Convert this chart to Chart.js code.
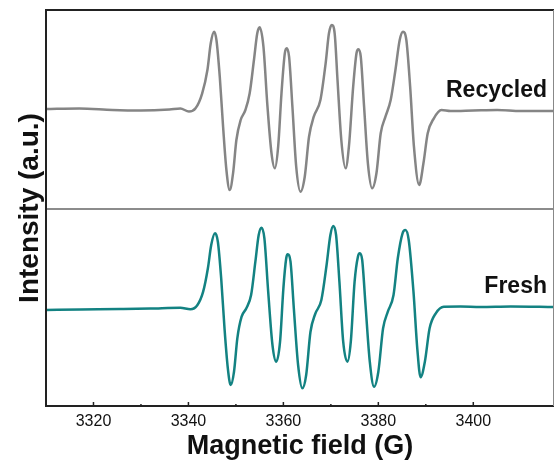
<!DOCTYPE html>
<html>
<head>
<meta charset="utf-8">
<script src="https://cdn.jsdelivr.net/npm/chart.js@4.4.1/dist/chart.umd.min.js"></script>
<style>
  html, body { margin: 0; padding: 0; background: #fff; overflow: hidden; }
</style>
</head>
<body>
<canvas id="eprChart" width="555" height="466"></canvas>
<script>
// field (G) and intensity (a.u.)
const fieldRecycled = [3310, 3317, 3324, 3330, 3336, 3338.3, 3340.1, 3341.5,
  3342.9, 3344.0, 3344.7, 3345.4, 3345.9, 3346.6, 3347.3, 3348.0, 3348.7,
  3349.4, 3350.1, 3351.0, 3352.0, 3352.9, 3353.8, 3354.5, 3355.0,
  3355.8, 3356.6, 3357.5, 3358.2, 3358.9, 3359.6, 3360.3, 3360.7,
  3361.2, 3361.9, 3362.7, 3363.6, 3364.5, 3365.4, 3366.4, 3367.8,
  3368.9, 3369.6, 3370.2, 3370.8, 3371.4, 3372.2, 3373.1, 3373.8,
  3374.7, 3375.4, 3375.8, 3376.3, 3377.0, 3377.8, 3378.7, 3379.6,
  3380.5, 3381.5, 3382.6, 3383.6, 3384.5, 3385.2, 3385.9, 3386.7,
  3387.5, 3388.6, 3389.5, 3390.4, 3391.7, 3393.3, 3395.2, 3400,
  3405, 3410, 3417];
const intensityRecycled = [0, 0.5, -1, -1.5, -0.5, 0.5, -2.5, 0.7,
  15.7, 39, 65.7, 77.3, 69, 32.3, -17.7, -61, -81,
  -64.3, -31, -11, -1, 15.7, 49, 75.7, 81.7,
  62.3, 5.7, -44.3, -59.3, -37.7, 15.7, 55.7, 60.7,
  52.3, 2.3, -57.7, -82.7, -67.7, -27.7, -7.7, 9,
  45.7, 75.7, 84, 75.7, 29, -31, -59.3, -37.7,
  22.3, 55.7, 59.7, 52.3, 2.3, -54.3, -79.3, -64.3,
  -24.3, -7.7, 9, 39, 69, 77.3, 69, 22.3,
  -37.7, -76, -54.3, -24.3, -9.3, -1, -2, -1.5,
  -1, -2, -2];

const fieldFresh = [3310, 3317.3, 3325.7, 3332, 3338.3, 3340.4, 3341.9, 3343.1,
  3344.1, 3344.8, 3345.6, 3346.2, 3346.9, 3347.6, 3348.3, 3348.9,
  3349.6, 3350.3, 3351.2, 3352.2, 3353.2, 3354.1, 3354.8, 3355.4,
  3356.0, 3356.8, 3357.7, 3358.5, 3359.3, 3360.0, 3360.6, 3360.9,
  3361.5, 3362.2, 3363.1, 3364.0, 3364.8, 3365.7, 3366.7, 3368.0,
  3369.1, 3369.9, 3370.5, 3371.1, 3371.8, 3372.6, 3373.5, 3374.2,
  3375.0, 3375.7, 3376.1, 3376.6, 3377.3, 3378.2, 3379.1, 3380.0,
  3381.0, 3382.0, 3383.2, 3384.1, 3385.1, 3385.7, 3386.4, 3387.4,
  3388.2, 3388.9, 3389.8, 3390.8, 3392.1, 3393.8, 3397.3, 3401.5,
  3407.9, 3417];
const intensityFresh = [-2, -1.5, -1, -0.5, 0.3, -1.3, 3, 16.3,
  39.7, 63, 74.7, 66.3, 29.7, -20.3, -60.3, -77,
  -63.7, -30.3, -8.7, -0.3, 13, 46.3, 73, 80.3,
  69.7, 16.3, -37, -53.7, -33.7, 19.7, 49.7, 53.7,
  46.3, -0.3, -57, -80.3, -67, -24, -6, 8,
  43, 73, 82, 73, 26.3, -33.7, -53.7, -33.7,
  26.3, 51.3, 54.7, 48, 3, -53.7, -78.7, -63.7,
  -20.3, -3.7, 13, 49.7, 74.7, 78, 68, 16.3,
  -40.3, -69.3, -53.7, -20.3, -5.3, 1.3, 1.5, 1,
  1.5, 1];

const xTickLabels = [3320, 3340, 3360, 3380, 3400];
const seriesNames = ["Recycled", "Fresh"];

// vertical offsets that stack the two panels on one axis
const TOP_OFFSET = 100;
const BOTTOM_OFFSET = -99;

const FONT = '"Liberation Sans", Arial, Helvetica, sans-serif';

function toPoints(fields, values, offset) {
  return fields.map((f, i) => ({ x: f, y: values[i] + offset }));
}

function strokeLine(ctx, x1, y1, x2, y2) {
  ctx.beginPath();
  ctx.moveTo(x1, y1);
  ctx.lineTo(x2, y2);
  ctx.stroke();
}

const framePlugin = {
  id: "frame",
  afterDatasetsDraw(chart) {
    const { ctx, chartArea: a, scales: { x, y } } = chart;
    ctx.save();

    // divider between panels
    const yMid = y.getPixelForValue(0);
    ctx.strokeStyle = "#666";
    ctx.lineWidth = 1.5;
    strokeLine(ctx, a.left, yMid, a.right, yMid);

    // frame
    ctx.strokeStyle = "#222";
    ctx.lineWidth = 2;
    strokeLine(ctx, a.left, a.top, a.right, a.top);
    strokeLine(ctx, a.left, a.top - 1, a.left, a.bottom + 1);
    strokeLine(ctx, a.left - 1, a.bottom, a.right, a.bottom);
    ctx.strokeStyle = "#888";
    ctx.lineWidth = 1;
    strokeLine(ctx, a.right - 0.5, a.top, a.right - 0.5, a.bottom);

    // inward ticks
    ctx.strokeStyle = "#222";
    ctx.lineWidth = 1.5;
    x.ticks.forEach(t => {
      const px = x.getPixelForValue(t.value);
      const len = xTickLabels.includes(t.value) ? 4 : 2;
      strokeLine(ctx, px, a.bottom, px, a.bottom - len);
    });

    // series names
    ctx.fillStyle = "#111";
    ctx.font = "bold 23px " + FONT;
    ctx.textAlign = "right";
    ctx.textBaseline = "alphabetic";
    ctx.fillText(seriesNames[0], a.right - 7, y.getPixelForValue(TOP_OFFSET) - 12);
    ctx.fillText(seriesNames[1], a.right - 7, y.getPixelForValue(BOTTOM_OFFSET) - 15);

    ctx.restore();
  }
};

new Chart(document.getElementById("eprChart").getContext("2d"), {
  type: "line",
  data: {
    datasets: [
      {
        label: seriesNames[0],
        data: toPoints(fieldRecycled, intensityRecycled, TOP_OFFSET),
        borderColor: "#858585",
        borderWidth: 2.5,
        pointRadius: 0,
        fill: false,
        cubicInterpolationMode: "monotone"
      },
      {
        label: seriesNames[1],
        data: toPoints(fieldFresh, intensityFresh, BOTTOM_OFFSET),
        borderColor: "#138282",
        borderWidth: 2.5,
        pointRadius: 0,
        fill: false,
        cubicInterpolationMode: "monotone"
      }
    ]
  },
  options: {
    responsive: false,
    animation: false,
    layout: { padding: { top: 10, right: 1, left: 0, bottom: 0 } },
    plugins: { legend: { display: false }, tooltip: { enabled: false } },
    scales: {
      x: {
        type: "linear",
        min: 3310,
        max: 3417,
        afterBuildTicks: s => { s.ticks = s.ticks.filter(t => t.value % 10 === 0); },
        afterFit: s => { s.height = 60; },
        ticks: {
          stepSize: 10,
          autoSkip: false,
          maxRotation: 0,
          padding: 6,
          color: "#111",
          font: { family: FONT, size: 16 },
          callback: v => (xTickLabels.includes(v) ? String(v) : "")
        },
        grid: { display: false, drawTicks: false },
        border: { display: false },
        title: {
          display: true,
          text: "Magnetic field (G)",
          color: "#111",
          font: { family: FONT, size: 27, weight: "bold" },
          padding: { top: 0, bottom: 3 }
        }
      },
      y: {
        min: -197,
        max: 199,
        afterBuildTicks: s => { s.ticks = []; },
        afterFit: s => { s.width = 46; },
        ticks: { display: false },
        grid: { display: false, drawTicks: false },
        border: { display: false },
        title: {
          display: true,
          text: "Intensity (a.u.)",
          color: "#111",
          font: { family: FONT, size: 28, weight: "bold" },
          padding: { top: 13, bottom: 0 }
        }
      }
    }
  },
  plugins: [framePlugin]
});
</script>
</body>
</html>
